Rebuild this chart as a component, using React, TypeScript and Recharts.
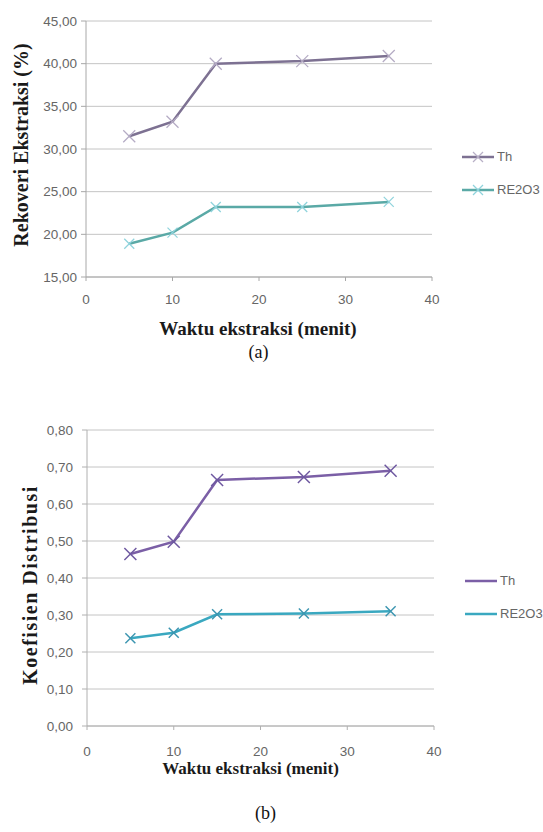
import React from 'react';
import { LineChart, Line, XAxis, YAxis, CartesianGrid, Legend } from 'recharts';

const waktu = [5, 10, 15, 25, 35];
const rekoveriTh = [31.5, 33.2, 40.0, 40.3, 40.9];
const rekoveriRE = [18.9, 20.2, 23.2, 23.2, 23.8];
const koefTh = [0.465, 0.498, 0.665, 0.673, 0.69];
const koefRE = [0.237, 0.252, 0.302, 0.304, 0.31];
const xTicks = [0, 10, 20, 30, 40];
const yTicksA = [15, 20, 25, 30, 35, 40, 45];
const yTicksB = [0, 0.1, 0.2, 0.3, 0.4, 0.5, 0.6, 0.7, 0.8];
const seriesNames = ['Th', 'RE2O3'];

const dataA = waktu.map((w, i) => ({ w, Th: rekoveriTh[i], RE2O3: rekoveriRE[i] }));
const dataB = waktu.map((w, i) => ({ w, Th: koefTh[i], RE2O3: koefRE[i] }));

const tickFont = { fontFamily: 'Liberation Sans, Arial, sans-serif', fontSize: 13.5, fill: '#666' };
const fmt = (v: number) => v.toFixed(2).replace('.', ',');

const makeCross = (color: string, r: number, sw: number) => (props: any) => {
  const { cx, cy, index } = props;
  if (cx == null || cy == null) return <g key={index} />;
  return (
    <g key={index}>
      <line x1={cx - r} y1={cy - r} x2={cx + r} y2={cy + r} stroke={color} strokeWidth={sw} />
      <line x1={cx - r} y1={cy + r} x2={cx + r} y2={cy - r} stroke={color} strokeWidth={sw} />
    </g>
  );
};

const makeLegend = (colors: string[], markerColors: string[], showMarker: boolean) => () => (
  <div style={{ display: 'flex', flexDirection: 'column', gap: 14 }}>
    {seriesNames.map((n, i) => (
      <div key={n} style={{ display: 'flex', alignItems: 'center', height: 19 }}>
        <svg width={34} height={16}>
          <line x1={0} y1={8} x2={32} y2={8} stroke={colors[i]} strokeWidth={2.5} />
          {showMarker && (
            <g>
              <line x1={11} y1={3} x2={21} y2={13} stroke={markerColors[i]} strokeWidth={1.3} />
              <line x1={11} y1={13} x2={21} y2={3} stroke={markerColors[i]} strokeWidth={1.3} />
            </g>
          )}
        </svg>
        <span style={{ fontFamily: 'Liberation Sans, Arial, sans-serif', fontSize: 13, color: '#666', marginLeft: 1 }}>{n}</span>
      </div>
    ))}
  </div>
);

const yTitle = (text: string, x: number, size: number, spacing: number, dy: number) => (props: any) => {
  const vb = props.viewBox;
  const cy = vb.y + vb.height / 2 + dy;
  return (
    <text x={x} y={cy} transform={`rotate(-90 ${x} ${cy})`} textAnchor="middle" dominantBaseline="central"
      style={{ fontFamily: 'Liberation Serif, Times New Roman, serif', fontWeight: 'bold', fontSize: size, letterSpacing: spacing, fill: '#1a1a1a' }}>
      {text}
    </text>
  );
};

const xTitle = (text: string, dy: number, dx: number, size: number) => (props: any) => {
  const vb = props.viewBox;
  const cx = vb.x + vb.width / 2 + dx;
  return (
    <text x={cx} y={vb.y + dy} textAnchor="middle" dominantBaseline="central"
      style={{ fontFamily: 'Liberation Serif, Times New Roman, serif', fontWeight: 'bold', fontSize: size, fill: '#1a1a1a' }}>
      {text}
    </text>
  );
};

export default function App() {
  const thA = '#7d7192';
  const reA = '#5aa9a6';
  const thB = '#7b5fa6';
  const reB = '#3aa8c0';
  return (
    <div style={{ position: 'absolute', left: 0, top: 0, width: 543, height: 832, background: '#fff' }}>
      <div style={{ position: 'absolute', left: 0, top: 0 }}>
        <LineChart width={543} height={340} data={dataA} margin={{ top: 21, right: 111, bottom: 33, left: 0 }}>
          <CartesianGrid vertical={false} stroke="#c4c4c4" />
          <XAxis dataKey="w" type="number" domain={[0, 40]} ticks={xTicks} height={30}
            tick={tickFont} stroke="#a8a8a8" tickSize={4} tickMargin={13}
            label={{ content: xTitle('Waktu ekstraksi (menit)', 51, -1, 19) }} />
          <YAxis type="number" domain={[15, 45]} ticks={yTicksA} width={86} tickFormatter={fmt}
            tick={tickFont} stroke="#a8a8a8" tickSize={5} tickMargin={4}
            label={{ content: yTitle('Rekoveri Ekstraksi (%)', 21, 20, 0, -4) }} />
          <Legend layout="vertical" align="center" verticalAlign="middle"
            wrapperStyle={{ position: 'absolute', left: 462, top: 147, width: 80 }}
            content={makeLegend([thA, reA], ['#b8b0c6', '#8fd3dc'], true)} />
          <Line dataKey="Th" stroke={thA} strokeWidth={2.5} isAnimationActive={false}
            dot={makeCross('#b4abc4', 6, 1.3)} />
          <Line dataKey="RE2O3" stroke={reA} strokeWidth={2.5} isAnimationActive={false}
            dot={makeCross('#8fd3dc', 5, 1.3)} />
        </LineChart>
      </div>
      <div style={{ position: 'absolute', left: 0, top: 340, width: 543, textAlign: 'center', fontFamily: 'Liberation Serif, Times New Roman, serif', fontSize: 18, color: '#111', lineHeight: '24px' }}>
        <span style={{ position: 'relative', left: -13 }}>(a)</span>
      </div>

      <div style={{ position: 'absolute', left: 0, top: 400 }}>
        <LineChart width={543} height={400} data={dataB} margin={{ top: 30, right: 109, bottom: 49, left: 0 }}>
          <CartesianGrid vertical={false} stroke="#c4c4c4" />
          <XAxis dataKey="w" type="number" domain={[0, 40]} ticks={xTicks} height={25}
            tick={tickFont} stroke="#b0b0b0" tickSize={4} tickMargin={16}
            label={{ content: xTitle('Waktu ekstraksi (menit)', 42, -10, 17) }} />
          <YAxis type="number" domain={[0, 0.8]} ticks={yTicksB} width={87} tickFormatter={fmt}
            tick={tickFont} stroke="#b0b0b0" tickSize={5} tickMargin={9}
            label={{ content: yTitle('Koefisien Distribusi', 30, 20, 1.5, 7) }} />
          <Legend layout="vertical" align="center" verticalAlign="middle"
            wrapperStyle={{ position: 'absolute', left: 465, top: 171, width: 80 }}
            content={makeLegend([thB, reB], [thB, reB], false)} />
          <Line dataKey="Th" stroke={thB} strokeWidth={2.5} isAnimationActive={false}
            dot={makeCross('#6e58a0', 6, 1.5)} />
          <Line dataKey="RE2O3" stroke={reB} strokeWidth={2.5} isAnimationActive={false}
            dot={makeCross('#3c95b0', 5, 1.5)} />
        </LineChart>
      </div>
      <div style={{ position: 'absolute', left: 0, top: 801, width: 543, textAlign: 'center', fontFamily: 'Liberation Serif, Times New Roman, serif', fontSize: 18, color: '#111', lineHeight: '24px' }}>
        <span style={{ position: 'relative', left: -6 }}>(b)</span>
      </div>
    </div>
  );
}
